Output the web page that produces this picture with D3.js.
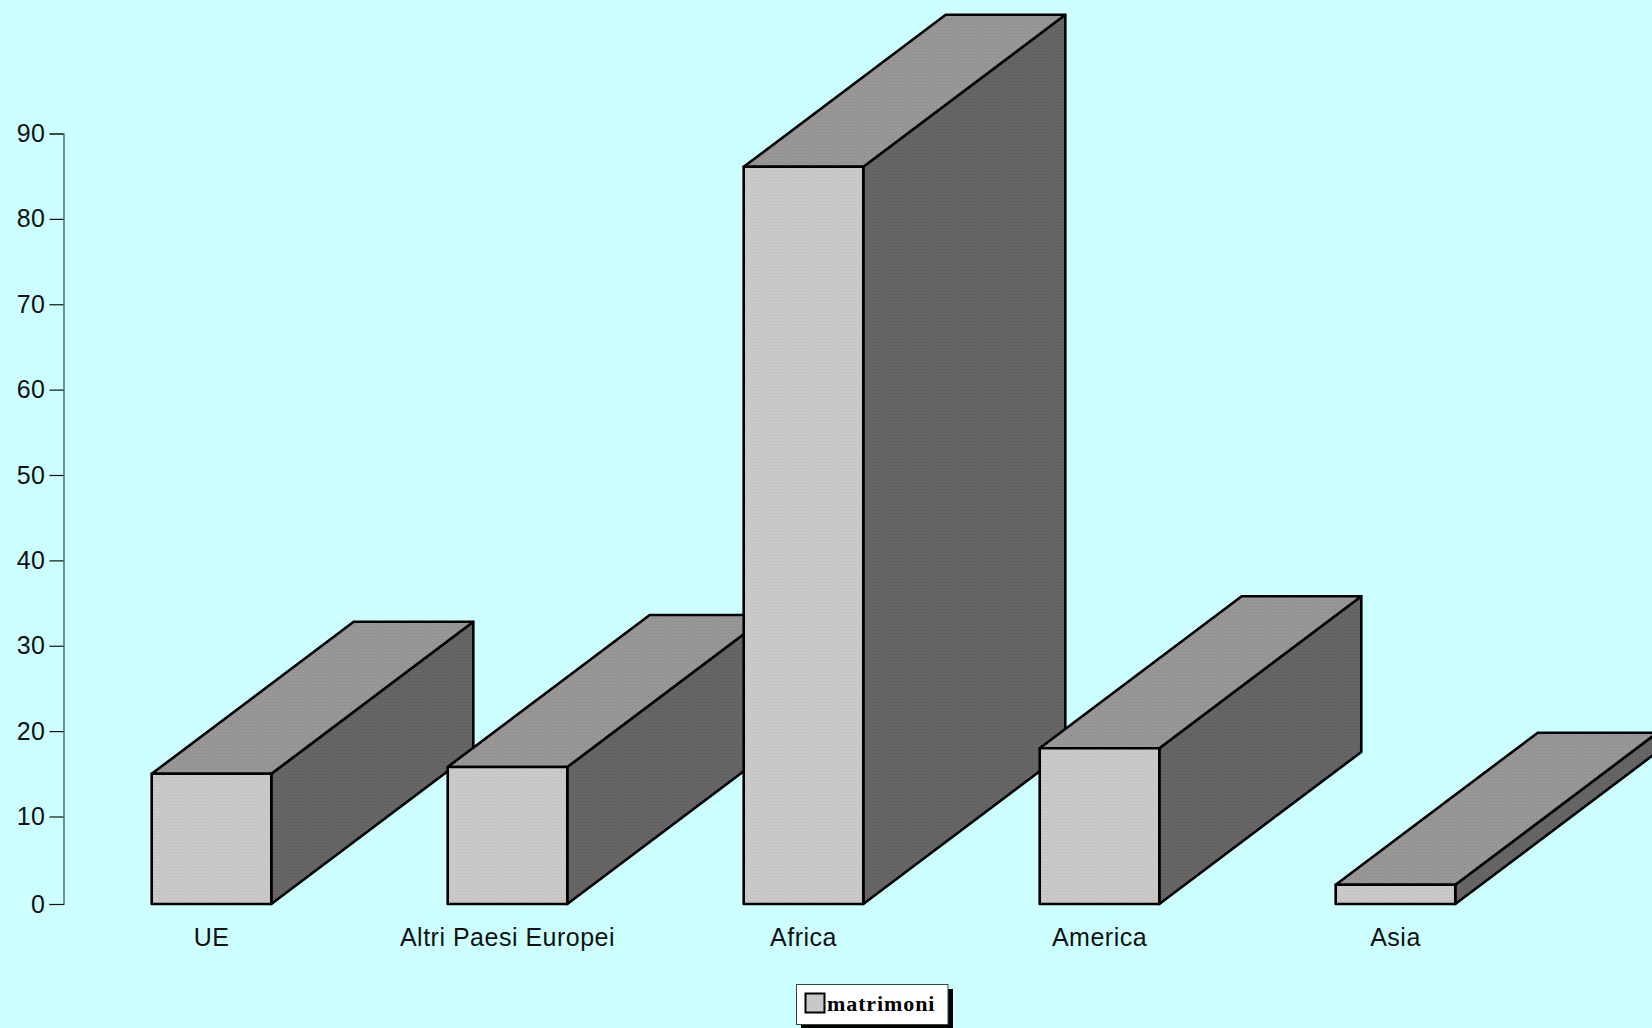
<!DOCTYPE html>
<html>
<head>
<meta charset="utf-8">
<script src="https://cdn.jsdelivr.net/npm/d3@7"></script>
<style>
  html, body { margin: 0; padding: 0; background: #ccffff; overflow: hidden; }
  svg { display: block; }
</style>
</head>
<body>
<div id="chart"></div>
<script>
const categories = ["UE", "Altri Paesi Europei", "Africa", "America", "Asia"];
const matrimoni = [15, 15.8, 86.1, 18, 2.2];
const yTicks = [0, 10, 20, 30, 40, 50, 60, 70, 80, 90];
const legendLabel = "matrimoni";

const width = 1652;
const height = 1028;

const svg = d3.select("#chart")
  .append("svg")
  .attr("width", width)
  .attr("height", height);

// dithered fills, same look as the old chart export
const defs = svg.append("defs");
function dither(id, base, dot) {
  const p = defs.append("pattern")
    .attr("id", id)
    .attr("width", 3)
    .attr("height", 3)
    .attr("patternUnits", "userSpaceOnUse");
  p.append("rect").attr("width", 3).attr("height", 3).attr("fill", base);
  p.append("rect").attr("width", 1).attr("height", 1).attr("fill", dot);
  p.append("rect").attr("x", 1.5).attr("y", 1.5).attr("width", 1).attr("height", 1).attr("fill", dot);
}
dither("front", "#cdcdcd", "#b7b7b7");
dither("top", "#9a9a9a", "#868686");
dither("side", "#686868", "#565656");

// y scale: the 0 tick sits a little lower in the original
const y = d3.scaleLinear()
  .domain([0, 10, 90])
  .range([904, 816.5, 133.5]);

const x = d3.scaleBand()
  .domain(categories)
  .range([63.5, 1543.5])
  .paddingInner(0.596)
  .paddingOuter(0.298);

// Depth of the 3d extrusion
const depthX = 202;
const depthY = 152;

// Axis
const yAxis = svg.append("g")
  .attr("transform", "translate(63.5,0)")
  .call(d3.axisLeft(y).tickValues(yTicks).tickSize(14).tickPadding(4).tickFormat(d3.format("d")));
yAxis.select(".domain").attr("stroke", "#33474a").attr("stroke-width", 1.2);
yAxis.selectAll(".tick line").attr("stroke", "#111").attr("stroke-width", 1.2);
yAxis.selectAll("text")
  .attr("font-family", "'Liberation Sans', Arial, sans-serif")
  .attr("font-size", 25)
  .attr("letter-spacing", 0.5)
  .attr("fill", "#111");

// Bars, left to right so later ones cover earlier ones
const bars = svg.append("g")
  .selectAll("g")
  .data(categories)
  .enter().append("g")
  .attr("stroke", "#000")
  .attr("stroke-width", 2.6)
  .attr("stroke-linejoin", "round");

function poly(points) {
  return points.map(p => p.join(",")).join(" ");
}

bars.append("polygon")
  .attr("fill", "url(#side)")
  .attr("points", (d, i) => {
    const r = x(d) + x.bandwidth();
    const t = y(matrimoni[i]);
    const b = y(0);
    return poly([[r, t], [r + depthX, t - depthY], [r + depthX, b - depthY], [r, b]]);
  });

bars.append("polygon")
  .attr("fill", "url(#top)")
  .attr("points", (d, i) => {
    const l = x(d);
    const r = l + x.bandwidth();
    const t = y(matrimoni[i]);
    return poly([[l, t], [l + depthX, t - depthY], [r + depthX, t - depthY], [r, t]]);
  });

bars.append("rect")
  .attr("fill", "url(#front)")
  .attr("x", d => x(d))
  .attr("y", (d, i) => y(matrimoni[i]))
  .attr("width", x.bandwidth())
  .attr("height", (d, i) => y(0) - y(matrimoni[i]));

// Category labels
svg.append("g")
  .selectAll("text")
  .data(categories)
  .enter().append("text")
  .attr("x", d => x(d) + x.bandwidth() / 2)
  .attr("y", 946)
  .attr("text-anchor", "middle")
  .attr("font-family", "'Liberation Sans', Arial, sans-serif")
  .attr("font-size", 25)
  .attr("letter-spacing", 0.5)
  .attr("fill", "#111")
  .text(d => d);

// Legend
const legend = svg.append("g");
legend.append("rect")
  .attr("x", 801).attr("y", 989)
  .attr("width", 152).attr("height", 41)
  .attr("fill", "#000");
legend.append("rect")
  .attr("x", 796.5).attr("y", 984.5)
  .attr("width", 151.5).attr("height", 40)
  .attr("fill", "#fff")
  .attr("stroke", "#33474a")
  .attr("stroke-width", 1);
legend.append("rect")
  .attr("x", 805.5).attr("y", 993.5)
  .attr("width", 19).attr("height", 19)
  .attr("fill", "url(#front)")
  .attr("stroke", "#000")
  .attr("stroke-width", 2);
legend.append("text")
  .attr("x", 827)
  .attr("y", 1011)
  .attr("font-family", "'Liberation Serif', 'Times New Roman', serif")
  .attr("font-weight", "bold")
  .attr("font-size", 22)
  .attr("letter-spacing", 0.9)
  .attr("fill", "#000")
  .text(legendLabel);
</script>
</body>
</html>
